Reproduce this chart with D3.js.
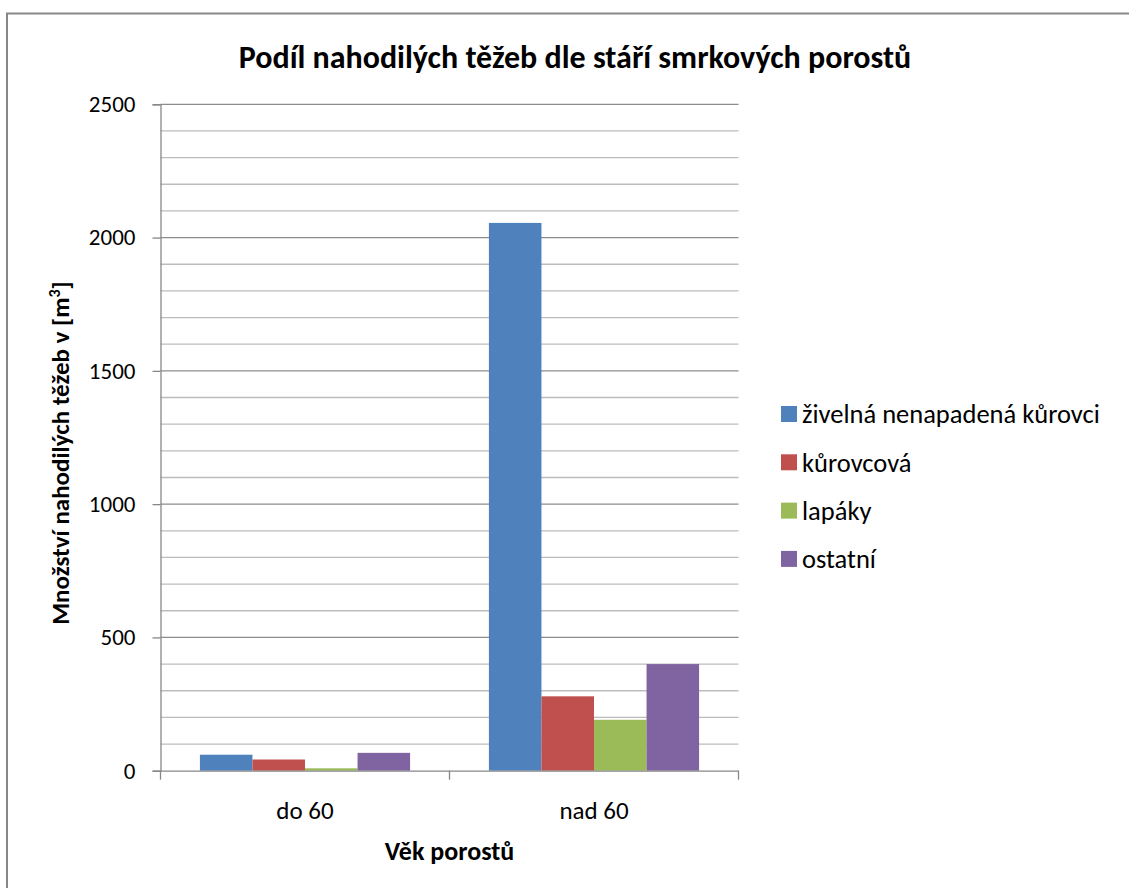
<!DOCTYPE html>
<html lang="cs">
  <head>
    <meta charset="UTF-8" />
    <title>Podíl nahodilých těžeb dle stáří smrkových porostů</title>
    <script src="https://d3js.org/d3.v7.min.js"></script>
    <style>
      body { margin: 0; background: #fff; }
      svg text { font-family: Carlito, Lato, "Open Sans", sans-serif; fill: #000; }
    </style>
  </head>
  <body>
    <div id="chart"></div>
    <script>
      // data
      const categories = ["do 60", "nad 60"];
      const seriesNames = ["živelná nenapadená kůrovci", "kůrovcová", "lapáky", "ostatní"];
      const zivelna = [60, 2055];
      const kurovcova = [42, 279];
      const lapaky = [9, 191];
      const ostatni = [67, 400];
      const yTicks = [0, 500, 1000, 1500, 2000, 2500];

      const seriesValues = [zivelna, kurovcova, lapaky, ostatni];
      const colors = ["#4F81BD", "#C0504D", "#9BBB59", "#8064A2"];

      const W = 1129, H = 888;
      const plot = { left: 160.5, right: 738.5, top: 104.3, bottom: 770.7 };

      const svg = d3.select("#chart").append("svg")
        .attr("width", W).attr("height", H);

      // outer chart border (runs off right/bottom edge)
      svg.append("path")
        .attr("d", `M7,${H + 5} V13.5 H${W + 5}`)
        .attr("fill", "none")
        .attr("stroke", "#878787")
        .attr("stroke-width", 2);

      svg.append("text")
        .attr("x", 575).attr("y", 68)
        .attr("text-anchor", "middle")
        .attr("font-weight", "bold")
        .attr("font-size", 32)
        .text("Podíl nahodilých těžeb dle stáří smrkových porostů");

      const y = d3.scaleLinear().domain([0, 2500]).range([plot.bottom, plot.top]);
      const x0 = d3.scaleBand().domain(categories).range([plot.left, plot.right]).padding(0);
      const x1 = d3.scaleBand().domain(seriesNames).range([0, x0.bandwidth()])
        .paddingInner(0).paddingOuter(0.75);

      // gridlines: minor every 100, major every 500
      const g = svg.append("g");
      g.selectAll(".minor")
        .data(d3.range(100, 2501, 100).filter((v) => v % 500 !== 0))
        .enter().append("line")
        .attr("x1", plot.left).attr("x2", plot.right)
        .attr("y1", (d) => y(d)).attr("y2", (d) => y(d))
        .attr("stroke", "#bcbcbc").attr("stroke-width", 1.3);
      g.selectAll(".major")
        .data(yTicks.filter((v) => v > 0))
        .enter().append("line")
        .attr("x1", plot.left).attr("x2", plot.right)
        .attr("y1", (d) => y(d)).attr("y2", (d) => y(d))
        .attr("stroke", "#8c8c8c").attr("stroke-width", 1.3);

      // bars
      categories.forEach((cat, ci) => {
        seriesNames.forEach((s, si) => {
          const v = seriesValues[si][ci];
          svg.append("rect")
            .attr("x", x0(cat) + x1(s))
            .attr("y", y(v))
            .attr("width", x1.bandwidth())
            .attr("height", y(0) - y(v))
            .attr("fill", colors[si]);
        });
      });

      // y axis
      const yAxis = svg.append("g")
        .attr("transform", `translate(${plot.left},0)`)
        .call(d3.axisLeft(y).tickValues(yTicks).tickFormat(d3.format("d"))
          .tickSize(8).tickPadding(17));
      yAxis.select(".domain").attr("stroke", "#878787").attr("stroke-width", 1.3);
      yAxis.selectAll(".tick line").attr("stroke", "#878787").attr("stroke-width", 1.3);
      yAxis.selectAll(".tick text").attr("font-size", 23).attr("fill", "#000");

      // x axis
      const xAxis = svg.append("g")
        .attr("transform", `translate(0,${plot.bottom})`)
        .call(d3.axisBottom(x0).tickSize(0));
      xAxis.select(".domain").attr("stroke", "#878787").attr("stroke-width", 1.3);
      xAxis.selectAll(".tick text")
        .attr("font-size", 25).attr("fill", "#000")
        .attr("y", 48).attr("dy", null);
      xAxis.selectAll(".sep")
        .data([plot.left, x0("nad 60"), plot.right])
        .enter().append("line")
        .attr("x1", (d) => d).attr("x2", (d) => d)
        .attr("y1", 0).attr("y2", 9)
        .attr("stroke", "#878787").attr("stroke-width", 1.3);

      svg.append("text")
        .attr("x", (plot.left + plot.right) / 2).attr("y", 860)
        .attr("text-anchor", "middle")
        .attr("font-weight", "bold").attr("font-size", 26)
        .text("Věk porostů");

      const yTitle = svg.append("text")
        .attr("transform", "translate(69,453) rotate(-90)")
        .attr("text-anchor", "middle")
        .attr("font-weight", "bold").attr("font-size", 25);
      yTitle.append("tspan").text("Množství nahodilých těžeb v [m");
      yTitle.append("tspan").attr("dy", -9).attr("font-size", 16).text("3");
      yTitle.append("tspan").attr("dy", 9).text("]");

      // legend
      const legend = svg.append("g");
      seriesNames.forEach((s, i) => {
        const ly = 414 + i * 48.3;
        legend.append("rect")
          .attr("x", 781).attr("y", ly - 8)
          .attr("width", 16).attr("height", 16)
          .attr("fill", colors[i]);
        legend.append("text")
          .attr("x", 802).attr("y", ly)
          .attr("dy", "0.35em")
          .attr("font-size", 26.5)
          .text(s);
      });
    </script>
  </body>
</html>
